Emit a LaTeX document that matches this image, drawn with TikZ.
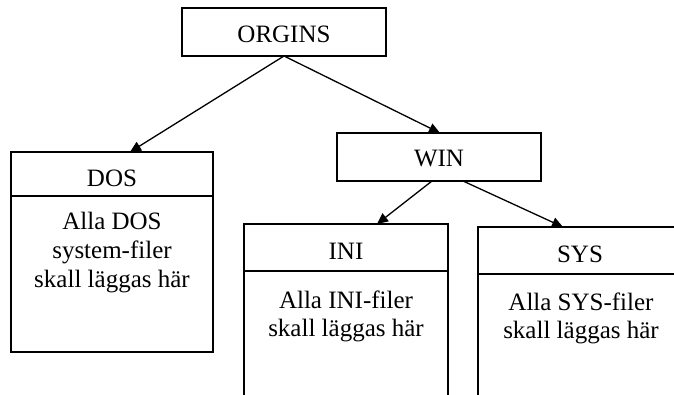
\documentclass[tikz,border=0pt]{standalone}
\usepackage{fontspec}
\setmainfont{Liberation Serif}
\usetikzlibrary{arrows.meta,calc}
\tikzset{
  box/.style={draw, line width=1.4pt, inner sep=0pt, outer sep=0pt},
  lbl/.style={anchor=base, inner sep=0pt, font=\fontsize{25}{28.5}\selectfont},
  body/.style={anchor=base, inner sep=0pt, align=center, font=\fontsize{25}{28.5}\selectfont},
  arr/.style={line width=1.3pt, -{Triangle[length=11pt,width=10pt]}}
}
\begin{document}
\begin{tikzpicture}[x=1pt,y=-1pt]
\useasboundingbox (0,0) rectangle (674,395);
\clip (0,0) rectangle (674,395);
% boxes
\node[box, minimum width=204pt, minimum height=48pt] (orgins) at (284,32) {};
\node[box, minimum width=204pt, minimum height=48pt] (win) at (439,157) {};
\node[box, minimum width=202pt, minimum height=44pt] (dos) at (112,174) {};
\node[box, minimum width=202pt, minimum height=156pt] (dosbody) at (112,274) {};
\node[box, minimum width=204pt, minimum height=47pt] (ini) at (346,247.5) {};
\node[box, minimum width=204pt, minimum height=150pt] (inibody) at (346,346) {};
\node[box, minimum width=204pt, minimum height=47pt] (sys) at (580,250.5) {};
\node[box, minimum width=204pt, minimum height=150pt] (sysbody) at (580,349) {};
% labels
\node[lbl] (torgins) at (284,43) {ORGINS};
\node[lbl] (twin) at (439,167) {WIN};
\node[lbl] (tdos) at (112,187) {DOS};
\node[lbl] (tini) at (346,259) {INI};
\node[lbl] (tsys) at (580,262) {SYS};
\node[body] (bdos) at (112,287) {Alla DOS\\system-filer\\skall läggas här};
\node[body] (bini) at (346,336.5) {Alla INI-filer\\skall läggas här};
\node[body] (bsys) at (581,338.5) {Alla SYS-filer\\skall läggas här};
% connectors
\draw[arr] (orgins.south) -- ($(dos.north)+(18,0)$);
\draw[arr] (orgins.south) -- ($(win.north)+(1,0)$);
\draw[arr] ($(win.south)+(-7,0)$) -- ($(ini.north)+(31,0)$);
\draw[arr] ($(win.south)+(24,0)$) -- ($(sys.north)+(-17,0)$);
\end{tikzpicture}
\end{document}
